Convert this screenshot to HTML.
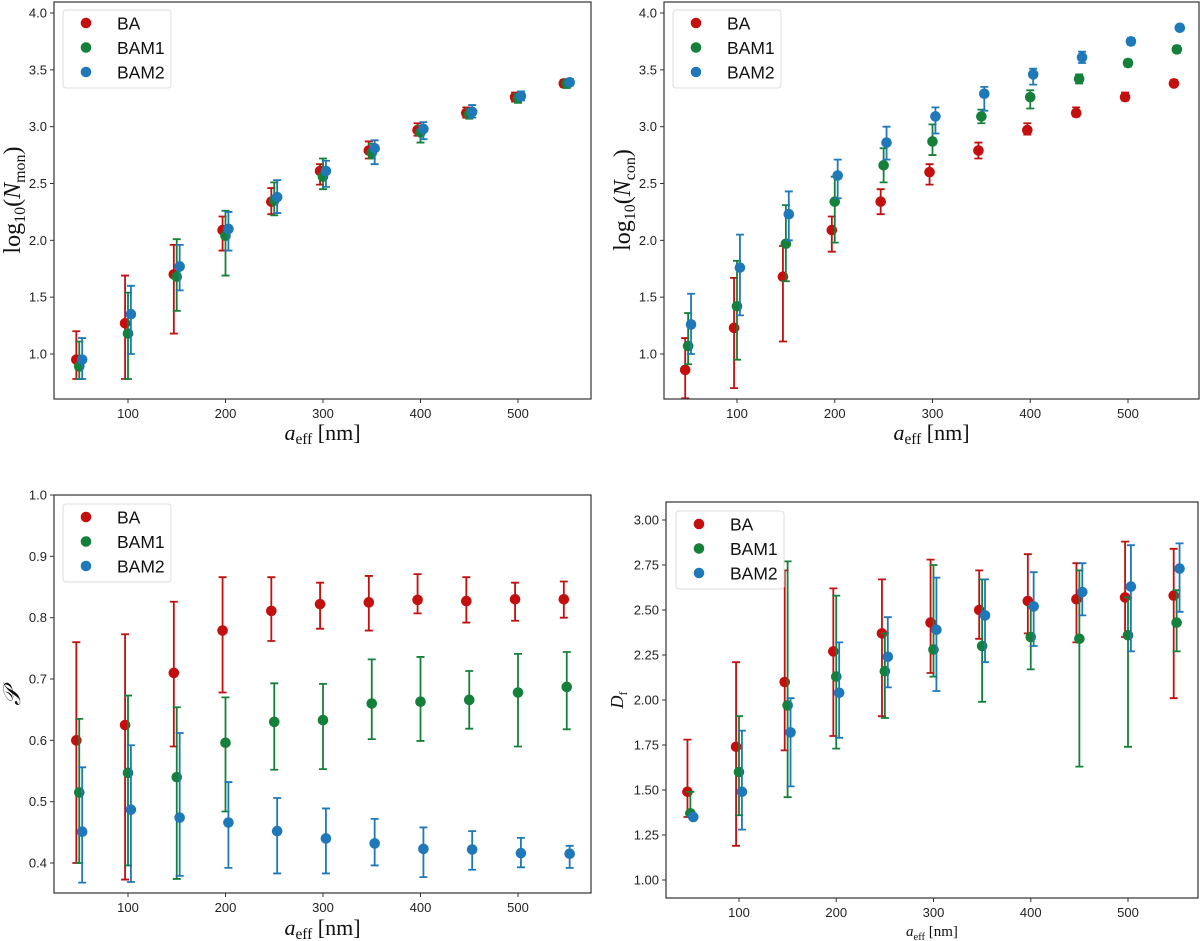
<!DOCTYPE html>
<html><head><meta charset="utf-8"><style>
body{margin:0;background:#fff;}
svg{display:block;font-family:"Liberation Sans",sans-serif;}
.tick{font-size:13px;fill:#222;}
.lab{font-family:"Liberation Serif",serif;fill:#111;}
</style></head><body>
<svg id="fig" width="1200" height="941" viewBox="0 0 1200 941"></svg>
<script>
const xCategories=[50,100,150,200,250,300,350,400,450,500,550];
const seriesNames=["BA","BAM1","BAM2"];
// Panel A: log10(N_mon)
const monBA=[0.95,1.27,1.70,2.09,2.34,2.61,2.79,2.97,3.12,3.26,3.38];
const monBAlo=[0.78,0.78,1.18,1.91,2.23,2.49,2.72,2.92,3.08,3.22,3.35];
const monBAhi=[1.20,1.69,1.96,2.21,2.46,2.67,2.87,3.03,3.17,3.30,3.41];
const monM1=[0.89,1.18,1.68,2.04,2.35,2.56,2.77,2.95,3.11,3.25,3.38];
const monM1lo=[0.78,0.78,1.38,1.69,2.22,2.45,2.72,2.86,3.07,3.21,3.34];
const monM1hi=[1.11,1.54,2.01,2.26,2.51,2.72,2.85,3.01,3.16,3.29,3.41];
const monM2=[0.95,1.35,1.77,2.10,2.38,2.61,2.81,2.98,3.13,3.27,3.39];
const monM2lo=[0.78,1.00,1.56,1.91,2.24,2.47,2.67,2.89,3.08,3.23,3.36];
const monM2hi=[1.14,1.60,1.96,2.25,2.53,2.70,2.88,3.04,3.19,3.31,3.42];
// Panel B: log10(N_con)
const conBA=[0.86,1.23,1.68,2.09,2.34,2.60,2.79,2.97,3.12,3.26,3.38];
const conBAlo=[0.61,0.70,1.11,1.90,2.23,2.49,2.72,2.93,3.09,3.23,3.36];
const conBAhi=[1.14,1.67,1.95,2.21,2.45,2.67,2.86,3.03,3.17,3.30,3.41];
const conM1=[1.07,1.42,1.97,2.34,2.66,2.87,3.09,3.26,3.42,3.56,3.68];
const conM1lo=[0.91,0.95,1.64,1.98,2.51,2.75,3.03,3.16,3.38,3.53,3.65];
const conM1hi=[1.36,1.82,2.31,2.56,2.81,3.02,3.15,3.32,3.46,3.59,3.71];
const conM2=[1.26,1.76,2.23,2.57,2.86,3.09,3.29,3.46,3.61,3.75,3.87];
const conM2lo=[1.00,1.34,2.00,2.37,2.71,2.94,3.14,3.37,3.56,3.72,3.85];
const conM2hi=[1.53,2.05,2.43,2.71,3.00,3.17,3.35,3.51,3.66,3.78,3.89];
// Panel C: P
const pBA=[0.600,0.625,0.710,0.779,0.811,0.822,0.825,0.829,0.827,0.830,0.830];
const pBAlo=[0.400,0.373,0.590,0.678,0.762,0.782,0.779,0.807,0.792,0.795,0.800];
const pBAhi=[0.760,0.773,0.826,0.866,0.866,0.857,0.868,0.871,0.866,0.857,0.859];
const pM1=[0.515,0.547,0.540,0.596,0.630,0.633,0.660,0.663,0.666,0.678,0.687];
const pM1lo=[0.400,0.396,0.374,0.484,0.552,0.553,0.602,0.599,0.619,0.590,0.618];
const pM1hi=[0.635,0.673,0.654,0.670,0.693,0.692,0.732,0.736,0.713,0.741,0.744];
const pM2=[0.451,0.487,0.474,0.466,0.452,0.440,0.432,0.423,0.422,0.416,0.415];
const pM2lo=[0.368,0.369,0.379,0.392,0.383,0.383,0.396,0.377,0.389,0.393,0.392];
const pM2hi=[0.556,0.592,0.612,0.532,0.506,0.489,0.472,0.458,0.452,0.441,0.428];
// Panel D: Df
const dBA=[1.49,1.74,2.10,2.27,2.37,2.43,2.50,2.55,2.56,2.57,2.58];
const dBAlo=[1.35,1.19,1.72,1.80,1.91,2.15,2.34,2.37,2.32,2.35,2.01];
const dBAhi=[1.78,2.21,2.72,2.62,2.67,2.78,2.72,2.81,2.76,2.88,2.84];
const dM1=[1.37,1.60,1.97,2.13,2.16,2.28,2.30,2.35,2.34,2.36,2.43];
const dM1lo=[1.36,1.36,1.46,1.73,1.90,2.13,1.99,2.17,1.63,1.74,2.27];
const dM1hi=[1.49,1.91,2.77,2.58,2.37,2.75,2.67,2.52,2.72,2.57,2.61];
const dM2=[1.35,1.49,1.82,2.04,2.24,2.39,2.47,2.52,2.60,2.63,2.73];
const dM2lo=[1.35,1.28,1.52,1.79,2.07,2.05,2.21,2.30,2.47,2.27,2.49];
const dM2hi=[1.36,1.83,2.01,2.32,2.46,2.68,2.67,2.71,2.76,2.86,2.87];
const xTicks=[100,200,300,400,500];
const yTicksA=["1.0","1.5","2.0","2.5","3.0","3.5","4.0"];
const yTicksC=["0.4","0.5","0.6","0.7","0.8","0.9","1.0"];
const yTicksD=["1.00","1.25","1.50","1.75","2.00","2.25","2.50","2.75","3.00"];

const colors=["#c40f0f","#15803a","#1f78b8"];
const offsets=[-3,0,3];
const NS="http://www.w3.org/2000/svg";
const svg=document.getElementById('fig');
function mk(tag,attrs,parent){const e=document.createElementNS(NS,tag);for(const k in attrs)e.setAttribute(k,attrs[k]);(parent||svg).appendChild(e);return e;}

function panel(cfg){
  const g=mk('g',{});
  
  
  const {L,R,T,B,x100,x500,ya,pa,yb,pb}=cfg;
  const sx=v=>x100+(v-100)*(x500-x100)/400;
  const sy=v=>pa+(v-ya)*(pb-pa)/(yb-ya);
  const cp=mk('clipPath',{id:'c'+cfg.name},g);
  mk('rect',{x:L,y:T,width:R-L,height:B-T},cp);
  // ticks
  xTicks.forEach(t=>{
    const x=sx(t);
    const tk=mk('line',{x1:x,x2:x,y1:B,y2:B+4,stroke:'#333'},g);
    
    
    const tx=mk('text',{x:x,y:B+19,'text-anchor':'middle',class:'tick'},g);
    tx.textContent=t;
    
    
  });
  cfg.yTicks.forEach(t=>{
    const y=sy(parseFloat(t));
    const tk=mk('line',{x1:L-4,x2:L,y1:y,y2:y,stroke:'#333'},g);
    
    
    const tx=mk('text',{x:L-7,y:y+4.5,'text-anchor':'end',class:'tick'},g);
    tx.textContent=t;
    
    
  });
  // series
  const plot=mk('g',{'clip-path':'url(#c'+cfg.name+')'},g);
  cfg.series.forEach((s,si)=>{
    const sg=mk('g',{},plot);
    
    
    const [v,lo,hi]=s;
    xCategories.forEach((c,i)=>{
      const x=sx(c+offsets[si]);
      const e=mk('path',{d:`M${x},${sy(lo[i])}V${sy(hi[i])}M${x-4},${sy(lo[i])}H${x+4}M${x-4},${sy(hi[i])}H${x+4}`,stroke:colors[si],'stroke-width':1.8,fill:'none'},sg);
      
      
      const p=mk('circle',{cx:x,cy:sy(v[i]),r:5.3,fill:colors[si]},sg);
      
      
    });
  });
  const fr=mk('rect',{x:L,y:T,width:R-L,height:B-T,fill:'none',stroke:'#333','stroke-width':1.2},g);
  
  
  // legend
  const lg=mk('g',{},g);
  
  
  mk('rect',{x:cfg.lx,y:cfg.ly,width:108,height:78,rx:3,fill:'#fff',stroke:'#ddd'},lg);
  seriesNames.forEach((n,i)=>{
    const ey=cfg.ly+13+i*24.5;
    const en=mk('g',{},lg);
    
    
    mk('circle',{cx:cfg.lx+23,cy:ey,r:5.3,fill:colors[i]},en);
    const t=mk('text',{x:cfg.lx+54,y:ey+6.5,'font-size':'17.5px',fill:'#111'},en);
    t.textContent=n;
  });
  // x label
  const xl=mk('text',{x:(L+R)/2,y:cfg.xly,'text-anchor':'middle',class:'lab','font-size':cfg.xls+'px'},g);
  xl.innerHTML='<tspan font-style="italic">a</tspan><tspan font-size="'+(cfg.xls*0.7)+'px" dy="4">eff</tspan><tspan dy="-4"> [nm]</tspan>';
  
  
  const yl=mk('text',{transform:`translate(${cfg.ylx},${cfg.yly}) rotate(-90)`,'text-anchor':'middle',class:'lab','font-size':cfg.yls+'px'},g);
  yl.innerHTML=cfg.ylab;
  
  
}

panel({name:'panel-nmon',L:54,R:591,T:2,B:399,x100:128,x500:518,ya:1,pa:354,yb:4,pb:13,yTicks:yTicksA,
  series:[[monBA,monBAlo,monBAhi],[monM1,monM1lo,monM1hi],[monM2,monM2lo,monM2hi]],
  lx:63,ly:10,xly:440,xls:22,ylx:20,yly:200,yls:24,
  ylab:'log<tspan font-size="16px" dy="5">10</tspan><tspan dy="-5">(</tspan><tspan font-style="italic">N</tspan><tspan font-size="16px" dy="5">mon</tspan><tspan dy="-5">)</tspan>'});
panel({name:'panel-ncon',L:664,R:1199,T:2,B:399,x100:737,x500:1128,ya:1,pa:354,yb:4,pb:13,yTicks:yTicksA,
  series:[[conBA,conBAlo,conBAhi],[conM1,conM1lo,conM1hi],[conM2,conM2lo,conM2hi]],
  lx:673,ly:10,xly:440,xls:22,ylx:630,yly:200,yls:24,
  ylab:'log<tspan font-size="16px" dy="5">10</tspan><tspan dy="-5">(</tspan><tspan font-style="italic">N</tspan><tspan font-size="16px" dy="5">con</tspan><tspan dy="-5">)</tspan>'});
panel({name:'panel-porosity',L:54,R:591,T:495,B:893,x100:128,x500:518,ya:1.0,pa:495,yb:0.4,pb:863,yTicks:yTicksC,
  series:[[pBA,pBAlo,pBAhi],[pM1,pM1lo,pM1hi],[pM2,pM2lo,pM2hi]],
  lx:63,ly:504,xly:935,xls:22,ylx:20,yly:697,yls:24,
  ylab:'<tspan font-style="italic">𝒫</tspan>'});
panel({name:'panel-df',L:666,R:1198,T:502,B:898,x100:739,x500:1128,ya:1.0,pa:880,yb:3.0,pb:520,yTicks:yTicksD,
  series:[[dBA,dBAlo,dBAhi],[dM1,dM1lo,dM1hi],[dM2,dM2lo,dM2hi]],
  lx:676,ly:511,xly:936,xls:15,ylx:623,yly:700,yls:18,
  ylab:'<tspan font-style="italic">D</tspan><tspan font-size="12px" dy="4">f</tspan>'});
</script>
</body></html>
